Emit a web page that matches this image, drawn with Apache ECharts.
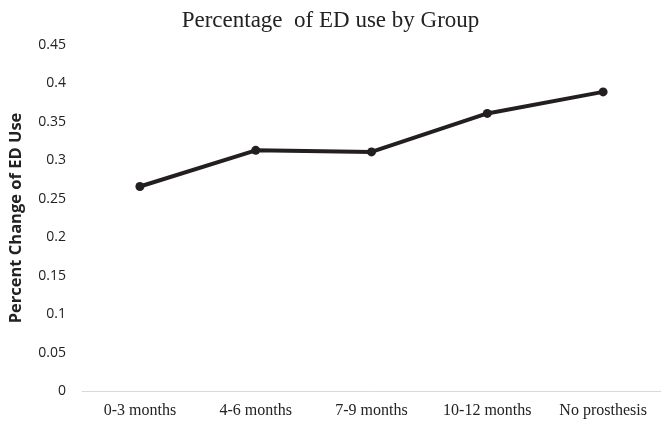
<!DOCTYPE html>
<html>
<head>
<meta charset="utf-8">
<script src="https://cdn.jsdelivr.net/npm/echarts@6/dist/echarts.min.js"></script>
<style>html,body{margin:0;padding:0;background:#fff;}#c{width:661px;height:425px;}</style>
</head>
<body>
<div id="c"></div>
<script>
const categories = ['0-3 months', '4-6 months', '7-9 months', '10-12 months', 'No prosthesis'];
const values = [0.266, 0.313, 0.311, 0.361, 0.389];
const yTicks = { min: 0, max: 0.45, interval: 0.05 };

const chart = echarts.init(document.getElementById('c'));
chart.setOption({
  animation: false,
  title: {
    text: 'Percentage  of ED use by Group',
    left: 'center',
    top: 4,
    textStyle: { fontFamily: 'Liberation Serif', fontSize: 23, fontWeight: 'normal', color: '#222' }
  },
  grid: { left: 79, right: -2, top: 45, bottom: 34 },
  xAxis: {
    type: 'category',
    data: categories,
    boundaryGap: true,
    axisLine: { lineStyle: { color: '#d9d9d9', width: 1 } },
    axisTick: { show: false },
    axisLabel: { fontFamily: 'Liberation Serif', fontSize: 16, color: '#222', margin: 12 }
  },
  yAxis: {
    type: 'value',
    min: yTicks.min, max: yTicks.max, interval: yTicks.interval,
    name: 'Percent Change of ED Use',
    nameLocation: 'middle',
    nameGap: 57,
    nameTextStyle: { fontFamily: 'Open Sans', fontSize: 16.5, fontWeight: 'bold', color: '#222' },
    axisLine: { show: false },
    axisTick: { show: false },
    splitLine: { show: false },
    axisLabel: { fontFamily: 'Open Sans', fontSize: 14, color: '#222', margin: 16,
      formatter: v => String(parseFloat(v.toFixed(2))) }
  },
  series: [{
    type: 'line',
    data: values,
    symbol: 'circle',
    symbolSize: 9,
    lineStyle: { color: '#231f20', width: 4 },
    itemStyle: { color: '#231f20' }
  }]
});
</script>
</body>
</html>
